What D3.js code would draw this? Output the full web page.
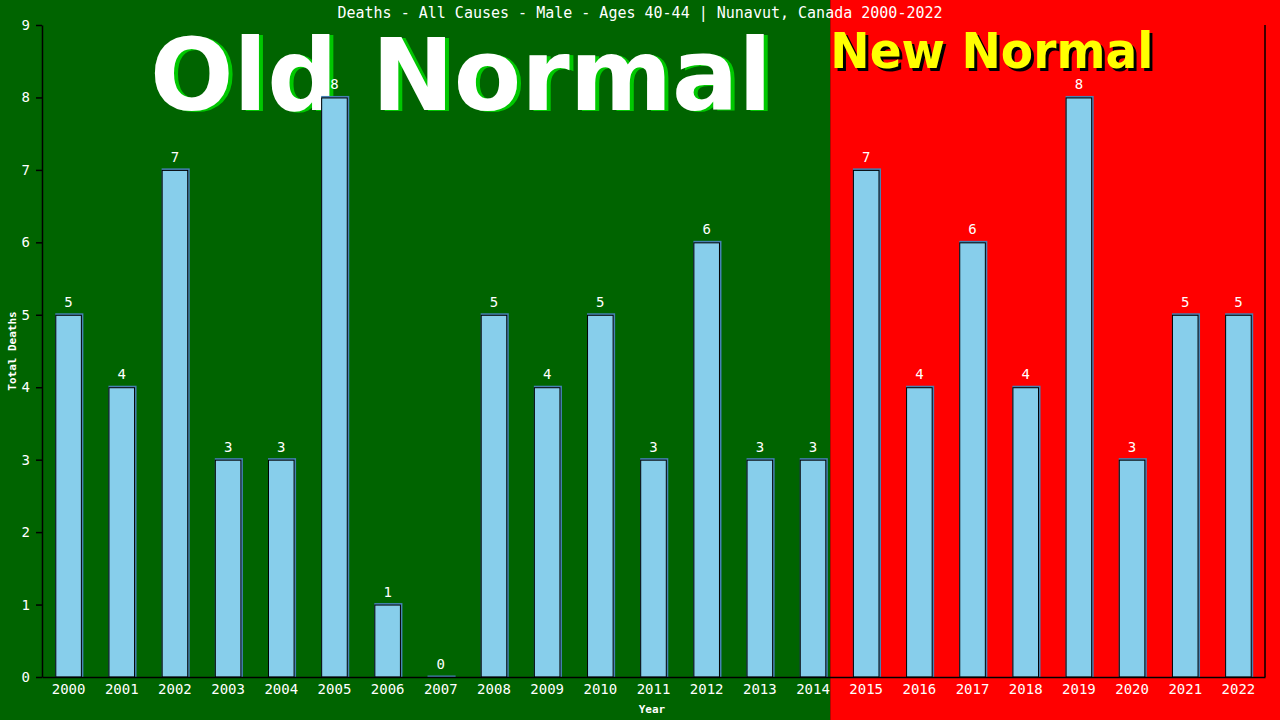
<!DOCTYPE html>
<html>
<head>
<meta charset="utf-8">
<script src="https://cdn.jsdelivr.net/npm/d3@7"></script>
<style>
  body { margin: 0; background: #000; }
  svg { display: block; }
</style>
</head>
<body>
<div id="chart"></div>
<script>
// Data
var years = ["2000","2001","2002","2003","2004","2005","2006","2007","2008","2009","2010","2011",
             "2012","2013","2014","2015","2016","2017","2018","2019","2020","2021","2022"];
var deaths = [5, 4, 7, 3, 3, 8, 1, 0, 5, 4, 5, 3, 6, 3, 3, 7, 4, 6, 4, 8, 3, 5, 5];
var yTicks = [0, 1, 2, 3, 4, 5, 6, 7, 8, 9];
var lastOldYear = "2014";

var titleText = "Deaths - All Causes - Male - Ages 40-44 | Nunavut, Canada 2000-2022";

var W = 1280, H = 720;
var margin = {top: 25, right: 15, bottom: 43, left: 42};
var MONO = "'DejaVu Sans Mono', monospace";
var BIG = "'DejaVu Sans', Verdana, sans-serif";

var svg = d3.select("#chart").append("svg")
    .attr("width", W)
    .attr("height", H);

var x = d3.scaleBand()
    .domain(years)
    .range([margin.left, W - margin.right])
    .paddingInner(0.5)
    .paddingOuter(0.25);

var y = d3.scaleLinear()
    .domain([0, 9])
    .range([H - margin.bottom, margin.top]);

// background halves: old normal (green) / new normal (red)
var split = x(lastOldYear) + x.bandwidth() + 4;
svg.append("rect").attr("x", 0).attr("y", 0).attr("width", split).attr("height", H).attr("fill", "#006400");
svg.append("rect").attr("x", split).attr("y", 0).attr("width", W - split).attr("height", H).attr("fill", "#ff0000");

// big labels
var oldTxt = svg.append("g").attr("font-family", BIG).attr("font-weight", "bold").attr("font-size", 100);
oldTxt.append("text").attr("x", 154).attr("y", 111).attr("fill", "#00c800")
    .attr("textLength", 622).attr("lengthAdjust", "spacingAndGlyphs").text("Old Normal");
oldTxt.append("text").attr("x", 150).attr("y", 110).attr("fill", "#ffffff")
    .attr("textLength", 622).attr("lengthAdjust", "spacingAndGlyphs").text("Old Normal");

var newTxt = svg.append("g").attr("font-family", BIG).attr("font-weight", "bold").attr("font-size", 49);
newTxt.append("text").attr("x", split + 3).attr("y", 71).attr("fill", "#000000")
    .attr("textLength", 323).attr("lengthAdjust", "spacingAndGlyphs").text("New Normal");
newTxt.append("text").attr("x", split).attr("y", 68).attr("fill", "#ffff00")
    .attr("textLength", 323).attr("lengthAdjust", "spacingAndGlyphs").text("New Normal");

// title
svg.append("text")
    .attr("x", 640).attr("y", 18)
    .attr("text-anchor", "middle")
    .attr("font-family", MONO).attr("font-size", 15)
    .attr("fill", "#fff")
    .text(titleText);

// bars: steelblue shadow then skyblue body with black outline
var bars = svg.append("g");
bars.selectAll(".shadow")
    .data(deaths)
    .enter().append("rect")
    .attr("class", "shadow")
    .attr("x", function(d, i) { return x(years[i]); })
    .attr("y", function(d) { return y(d) - 1.5; })
    .attr("width", x.bandwidth() + 1.5)
    .attr("height", function(d) { return y(0) - y(d) + 1.5; })
    .attr("fill", "#4682b4");

bars.selectAll(".bar")
    .data(deaths)
    .enter().append("rect")
    .attr("class", "bar")
    .attr("x", function(d, i) { return x(years[i]) + 0.5; })
    .attr("y", function(d) { return y(d) + 0.5; })
    .attr("width", x.bandwidth() - 1)
    .attr("height", function(d) { return Math.max(0, y(0) - y(d) - 0.5); })
    .attr("fill", "#87ceeb")
    .attr("stroke", function(d) { return d > 0 ? "#000" : "none"; })
    .attr("stroke-width", 1);

// value labels
svg.append("g").selectAll("text")
    .data(deaths)
    .enter().append("text")
    .attr("x", function(d, i) { return x(years[i]) + x.bandwidth() / 2; })
    .attr("y", function(d) { return y(d) - 8; })
    .attr("text-anchor", "middle")
    .attr("font-family", MONO).attr("font-size", 14)
    .attr("fill", "#fff")
    .text(function(d) { return d; });

// axes
var yAxis = svg.append("g")
    .attr("transform", "translate(" + margin.left + ",0)")
    .call(d3.axisLeft(y).tickValues(yTicks).tickSize(6).tickSizeOuter(0).tickPadding(6));
var xAxis = svg.append("g")
    .attr("transform", "translate(0," + y(0) + ")")
    .call(d3.axisBottom(x).tickSize(0).tickSizeOuter(0).tickPadding(7));

[yAxis, xAxis].forEach(function(a) {
    a.select(".domain").attr("stroke", "#000").attr("stroke-width", 1.5);
    a.selectAll(".tick line").attr("stroke", "#000").attr("stroke-width", 1.5);
    a.selectAll(".tick text").attr("fill", "#fff").attr("font-family", MONO).attr("font-size", 14);
});

// right frame line
svg.append("line")
    .attr("x1", W - margin.right).attr("x2", W - margin.right)
    .attr("y1", y(9)).attr("y2", y(0))
    .attr("stroke", "#000").attr("stroke-width", 1.5);

// axis titles
svg.append("text")
    .attr("transform", "translate(16," + (y(4.5)) + ") rotate(-90)")
    .attr("text-anchor", "middle")
    .attr("font-family", MONO).attr("font-size", 11).attr("font-weight", "bold")
    .attr("fill", "#fff")
    .text("Total Deaths");

svg.append("text")
    .attr("x", 652).attr("y", 713)
    .attr("text-anchor", "middle")
    .attr("font-family", MONO).attr("font-size", 11).attr("font-weight", "bold")
    .attr("fill", "#fff")
    .text("Year");
</script>
</body>
</html>
